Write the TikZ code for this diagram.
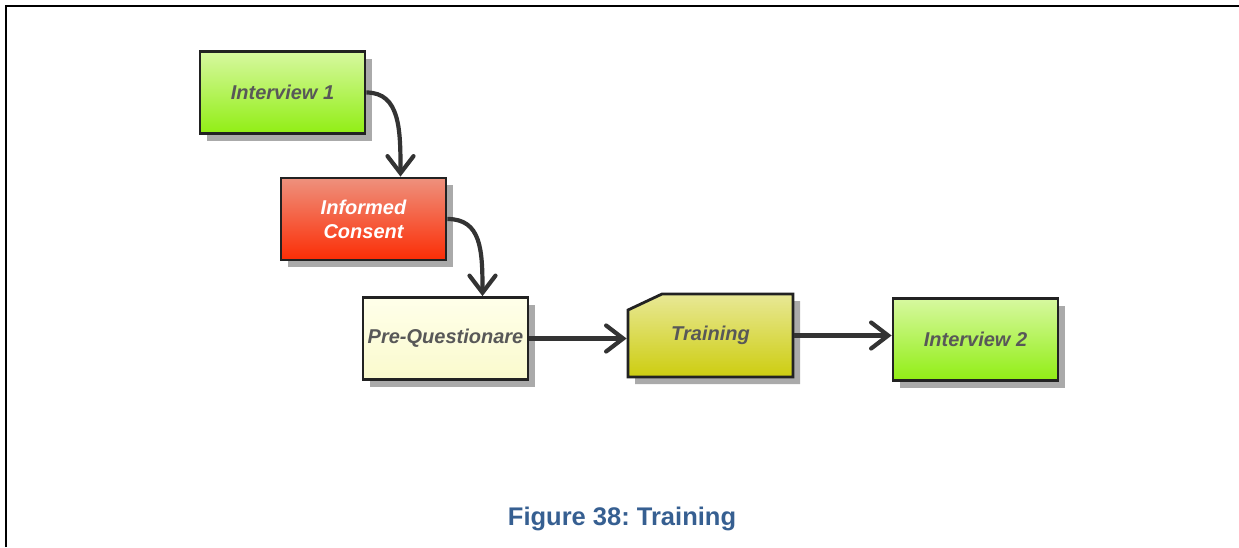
\documentclass[tikz,border=0pt]{standalone}
\usepackage{fontspec}
\setmainfont{Liberation Sans}
\usetikzlibrary{arrows.meta,shadows}
\frenchspacing

\definecolor{boxline}{RGB}{34,34,34}
\definecolor{labelgray}{RGB}{88,88,88}
\definecolor{shadowgray}{RGB}{170,170,170}
\definecolor{ivtop}{RGB}{215,248,160}
\definecolor{ivbot}{RGB}{145,238,20}
\definecolor{ictop}{RGB}{238,145,125}
\definecolor{icbot}{RGB}{252,45,5}
\definecolor{pqtop}{RGB}{255,255,234}
\definecolor{pqbot}{RGB}{250,250,205}
\definecolor{trtop}{RGB}{232,232,150}
\definecolor{trbot}{RGB}{205,205,15}
\definecolor{arrowgray}{RGB}{51,51,51}
\definecolor{captionblue}{RGB}{54,95,145}

\pgfdeclarelayer{background}
\pgfsetlayers{background,main}

\tikzset{
  box/.style={draw=boxline, line width=2.8pt, minimum width=165pt,
    minimum height=82pt, inner sep=0pt, align=center,
    font=\fontsize{20}{24}\selectfont\bfseries\itshape, text=labelgray,
    general shadow={fill=shadowgray, shadow xshift=7pt, shadow yshift=-7pt}},
  interview/.style={box, top color=ivtop, bottom color=ivbot},
  consent/.style={box, top color=ictop, bottom color=icbot, text=white},
  questionnaire/.style={box, top color=pqtop, bottom color=pqbot},
  trainingtext/.style={minimum width=165pt, minimum height=83pt, inner sep=0pt,
    outer sep=1.4pt, font=\fontsize{20}{24}\selectfont\bfseries\itshape, text=labelgray},
  flow/.style={draw=arrowgray, line width=4.2pt,
    -{Straight Barb[length=17pt, width=26pt, line cap=round]}},
  frameline/.style={line width=2.2pt, draw=black}
}

\begin{document}
\begin{tikzpicture}[x=1pt, y=-1pt]
  \useasboundingbox (0,0) rectangle (1239,547);

  % open page frame along the top and left edges
  \draw[frameline] (6,547) -- (6,6) -- (1239,6);

  % process boxes
  \node[interview] (iv1) at (282.5,92.5) {Interview 1};
  \node[consent] (ic) at (363.5,219) {Informed\\Consent};
  \node[questionnaire] (pq) at (445.5,338.5) {Pre-Questionare};
  \node[interview] (iv2) at (975.5,339.5) {Interview 2};

  % training box with a cut top-left corner
  \begin{scope}[shift={(710.5,335.5)}]
    \fill[shadowgray] (-75.5,-18.5) -- (-41.5,-34.5) -- (89.5,-34.5)
      -- (89.5,48.5) -- (-75.5,48.5) -- cycle;
    \shade[top color=trtop, bottom color=trbot, draw=boxline, line width=2.8pt]
      (-82.5,-25.5) -- (-48.5,-41.5) -- (82.5,-41.5) -- (82.5,41.5)
      -- (-82.5,41.5) -- cycle;
  \end{scope}
  \node[trainingtext] (tr) at (710.5,335.5) {\raisebox{2pt}{Training}};

  % connectors
  \draw[flow] (iv1.east) .. controls +(34,0) and +(0,-46) .. ([xshift=37pt]ic.north);
  \draw[flow] (ic.east) .. controls +(34,0) and +(0,-46) .. ([xshift=37pt]pq.north);
  \draw[flow] (pq.east) -- (pq.east -| tr.west);
  \draw[flow] (tr.east) -- (tr.east -| iv2.west);

  % caption
  \node[font=\fontsize{25.5}{30}\selectfont\bfseries, text=captionblue, anchor=base]
    (cap) at (622,525) {Figure 38: Training};
\end{tikzpicture}
\end{document}
